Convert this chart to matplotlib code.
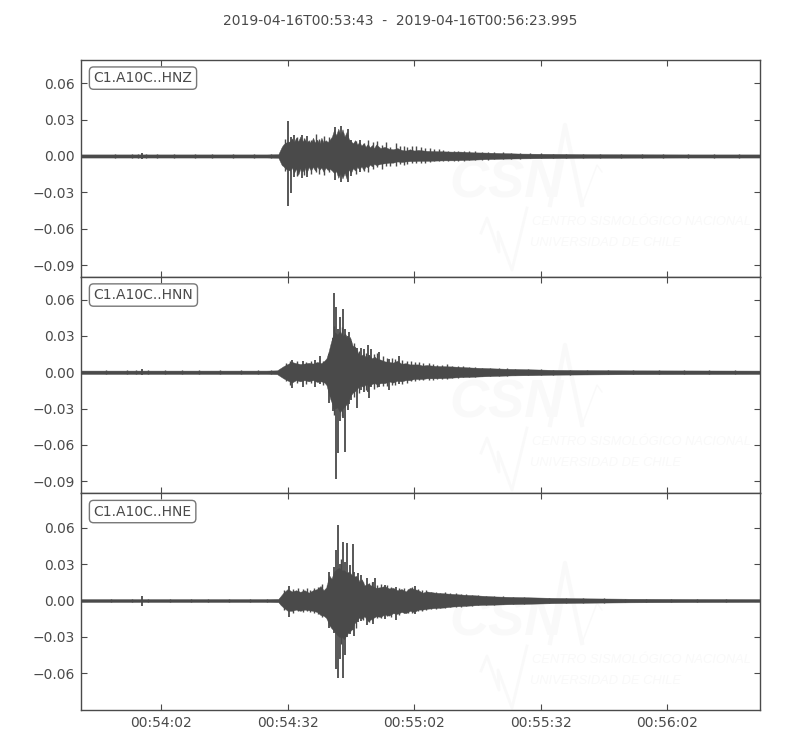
import matplotlib
matplotlib.use("Agg")
import matplotlib.pyplot as plt
import numpy as np

INK = "#4a4a4a"
WM = "#f9f9f9"
title_text = "2019-04-16T00:53:43  -  2019-04-16T00:56:23.995"
labels = ["C1.A10C..HNZ", "C1.A10C..HNN", "C1.A10C..HNE"]
xtick_pos = [19, 49, 79, 109, 139]
xtick_labels = ["00:54:02", "00:54:32", "00:55:02", "00:55:32", "00:56:02"]
yticks_z = [-0.09, -0.06, -0.03, 0.0, 0.03, 0.06]
yticks_n = [-0.09, -0.06, -0.03, 0.0, 0.03, 0.06]
yticks_e = [-0.06, -0.03, 0.0, 0.03, 0.06]
ylim_z = (-0.0996, 0.079)
ylim_n = (-0.0996, 0.0786)
ylim_e = (-0.0905, 0.0889)

# --- HNZ envelope (seconds after start, upper, lower)
t_z = [0, 8, 25, 35, 44, 46.8, 47.2, 47.6, 48, 48.5, 49.5, 50, 50.5, 51, 51.5, 52, 52.5, 53, 53.5, 54, 54.5, 55, 55.5, 56, 56.5, 57, 57.5, 58, 58.5, 59, 59.5,
       60, 60.5, 61, 61.5, 62, 62.5, 63, 63.5, 64, 64.5, 65, 65.5, 66, 66.5, 67, 67.5, 68, 68.5, 69, 69.5, 70, 71, 72, 73, 74, 75, 76, 77, 78, 79, 80, 82, 84, 86, 88, 90, 93, 96, 100, 104, 110, 120, 130, 145, 161]
up_z = [.0013, .0013, .0013, .0013, .0013, .0015, .0045, .0075, .0095, .011, .012, .0145, .0115, .015, .012, .016, .012, .014, .011, .013, .0105, .015, .011, .0135, .0100, .015, .011, .013, .0115, .0135, .016,
        .0215, .017, .0225, .0175, .022, .016, .020, .014, .012, .0105, .013, .0095, .0115, .0085, .0105, .0075, .010, .007, .009, .0065, .0095, .0065, .0075, .006, .0055, .0065, .005, .0045, .0055, .0045, .005, .0042, .004, .0038, .0036, .0036, .003, .0028, .0024, .002, .0018, .0015, .0014, .0013, .0013]
lo_z = [-.0013, -.0013, -.0013, -.0013, -.0013, -.0015, -.0045, -.0075, -.0085, -.0105, -.012, -.0095, -.014, -.0105, -.0155, -.0105, -.013, -.0095, -.014, -.009, -.012, -.009, -.012, -.0085, -.0115, -.0095, -.013, -.0095, -.0115, -.0105, -.012,
        -.014, -.0125, -.018, -.014, -.0185, -.014, -.019, -.011, -.014, -.010, -.012, -.009, -.011, -.0085, -.0115, -.0085, -.0095, -.007, -.0085, -.0065, -.0075, -.0065, -.006, -.0055, -.0055, -.0045, -.005, -.0045, -.0042, -.0042, -.004, -.004, -.0038, -.0036, -.0036, -.0034, -.003, -.0026, -.0022, -.002, -.0018, -.0015, -.0014, -.0013, -.0013]
spike_t_z = [14.5, 49.0, 49.7, 50.6, 52.3, 53.5, 60.3, 61.6, 63.4, 64.0, 66.2]
spike_hi_z = [.0024, .0288, .016, .017, .0175, .0165, .0235, .0247, .0222, .013, .0135]
spike_lo_z = [-.0024, -.0412, -.0305, -.017, -.0185, -.0175, -.0195, -.0215, -.0215, -.0165, -.0135]
teeth_t_z = [8, 12, 13.5, 15.5, 18, 22, 27, 31, 36, 41, 45, 48.3, 51.2, 52.8, 54.6, 55.8, 56.4, 57.6, 58.7, 65.3, 67.2, 68.1, 69.2, 70.3, 71.4, 72.4, 73.3, 74.6, 75.6, 76.5, 77.4, 78.6, 79.5, 80.7, 81.6, 82.7, 83.6, 84.8, 85.9, 87, 88.4, 89.5, 90.7, 92, 93.4, 95, 96.6, 98, 100, 102, 104, 106.5, 109, 112, 115, 119, 123, 128, 133, 138, 144, 150, 156]
teeth_hi_z = [.0015, .0016, .0016, .0016, .0015, .0016, .0015, .0015, .0015, .0016, .0015, .014, .016, .0145, .0135, .018, .014, .0165, .016, .012, .0105, .013, .0115, .0125, .009, .0115, .0075, .0105, .0085, .0085, .007, .0085, .008, .0075, .0065, .0065, .0055, .0055, .005, .0045, .0045, .0042, .0042, .0038, .0038, .0034, .0034, .003, .003, .0025, .0026, .0022, .0022, .0019, .002, .0017, .0018, .0016, .0016, .0016, .0015, .0015, .0015]
teeth_lo_z = [-.0015, -.0015, -.0016, -.0015, -.0015, -.0015, -.0015, -.0015, -.0015, -.0015, -.0016, -.012, -.0165, -.0155, -.015, -.013, -.0145, -.0155, -.0135, -.0145, -.0125, -.0135, -.0105, -.009, -.0105, -.0085, -.0085, -.0085, -.007, -.0075, -.0065, -.006, -.0055, -.0055, -.0055, -.0048, -.0045, -.0045, -.0045, -.0042, -.004, -.004, -.0038, -.0036, -.0034, -.0032, -.003, -.0028, -.0026, -.0024, -.0024, -.002, -.002, -.0019, -.0018, -.0017, -.0016, -.0016, -.0015, -.0015, -.0015, -.0015, -.0015]

# --- HNN envelope
t_n = [0, 8, 25, 35, 44, 46.5, 47.2, 48, 49, 50, 51, 52, 53, 54, 55, 56, 57, 57.7, 58.2, 58.7, 59.2, 59.7, 60.2, 60.8, 61.4, 62, 62.6, 63.2, 63.8, 64.4, 65, 65.6, 66.2, 67, 67.6, 68.3, 69, 69.6, 70.2, 71, 72, 73, 74, 75, 76, 77, 78, 79, 80, 81, 82, 84, 86, 88, 90, 92, 95, 98, 102, 107, 112, 120, 130, 145, 161]
up_n = [.0014, .0014, .0014, .0014, .0014, .0016, .0032, .005, .0068, .0085, .0075, .0068, .0072, .0078, .0072, .0085, .0075, .0095, .0115, .017, .024, .030, .033, .031, .034, .030, .032, .028, .029, .022, .021, .0165, .0135, .015, .012, .014, .0115, .013, .011, .0105, .009, .0085, .008, .0095, .007, .0075, .0065, .0065, .0065, .0055, .006, .0052, .005, .0048, .0044, .004, .0036, .0032, .0028, .0024, .002, .0018, .0016, .0015, .0014]
lo_n = [-.0014, -.0014, -.0014, -.0014, -.0014, -.0016, -.0032, -.005, -.0068, -.0085, -.0065, -.0075, -.0065, -.0075, -.0065, -.008, -.0075, -.0085, -.0105, -.017, -.023, -.027, -.030, -.029, -.033, -.030, -.028, -.025, -.020, -.017, -.0155, -.013, -.011, -.012, -.0095, -.0115, -.0095, -.009, -.010, -.009, -.009, -.0075, -.0085, -.007, -.0075, -.0065, -.0065, -.0055, -.0055, -.0055, -.005, -.005, -.0048, -.0044, -.004, -.0038, -.0034, -.003, -.0026, -.0024, -.002, -.0018, -.0016, -.0015, -.0014]
spike_t_n = [14.5, 50.0, 52.6, 55.5, 56.6, 58.7, 59.7, 59.9, 60.5, 61.0, 61.4, 62.2, 62.5, 63.2, 63.5, 64.0, 65.4, 66.3, 67.0, 68.0, 68.4, 68.8, 70.7, 73.1, 75.3]
spike_hi_n = [.0024, .0105, .009, .0105, .0135, .015, .028, .0657, .054, .036, .046, .052, .036, .030, .0336, .026, .020, .020, .019, .0226, .014, .019, .017, .011, .0136]
spike_lo_n = [-.0024, -.013, -.0118, -.0122, -.010, -.025, -.032, -.030, -.0877, -.0665, -.040, -.038, -.066, -.031, -.026, -.023, -.0295, -.015, -.016, -.016, -.021, -.012, -.012, -.0144, -.010]
teeth_t_n = [6, 11, 13, 16, 20, 24, 28, 33, 38, 42, 45, 48.6, 49.6, 51.3, 53.4, 54.6, 57.4, 60, 62, 64.8, 65.9, 67.5, 69.4, 70.1, 71.6, 72.6, 73.7, 74.4, 76.1, 77.2, 78.2, 79.2, 80.2, 81.2, 82.4, 83.4, 84.5, 85.6, 86.7, 88, 89.3, 90.6, 92, 93.5, 95, 97, 99, 101, 103, 106, 109, 112, 116, 120, 125, 131, 137, 143, 149, 155]
teeth_hi_n = [.0017, .0017, .0016, .0017, .0017, .0016, .0017, .0017, .0016, .0017, .0017, .0075, .0095, .0095, .0085, .0095, .0095, .038, .037, .024, .0175, .016, .015, .0155, .0135, .012, .0115, .011, .0105, .0095, .0095, .0085, .0085, .0075, .0075, .0065, .0062, .006, .0065, .0055, .005, .005, .0045, .0042, .0038, .0036, .0034, .0032, .003, .0026, .0024, .0022, .002, .002, .0018, .0018, .0017, .0016, .0016, .0016]
teeth_lo_n = [-.0017, -.0017, -.0016, -.0017, -.0016, -.0017, -.0017, -.0016, -.0017, -.0017, -.0016, -.0075, -.0105, -.009, -.0095, -.0085, -.0105, -.035, -.036, -.020, -.017, -.0145, -.0135, -.0125, -.0115, -.0115, -.0105, -.0105, -.0095, -.0085, -.0075, -.0075, -.0065, -.0065, -.006, -.006, -.0058, -.0055, -.0052, -.005, -.0046, -.0042, -.004, -.0036, -.0034, -.0032, -.003, -.0028, -.0026, -.0024, -.0022, -.002, -.0019, -.0017, -.0018, -.0016, -.0016, -.0016, -.0016, -.0016]

# --- HNE envelope
t_e = [0, 8, 25, 35, 44, 46.8, 47.3, 48, 49, 50, 51, 52, 53, 54, 55, 56, 56.8, 57.5, 58.2, 58.8, 59.4, 60, 60.6, 61.2, 61.8, 62.4, 63, 63.6, 64.2, 64.8, 65.4, 66, 66.6, 67.2, 68, 69, 70, 71, 72, 73, 74, 75, 76, 77, 78, 79, 80, 81, 82, 84, 86, 88, 90, 92, 95, 98, 102, 107, 112, 120, 130, 145, 161]
up_e = [.0012, .0012, .0012, .0012, .0012, .0014, .0035, .0065, .0095, .0075, .0085, .0072, .0085, .0065, .0085, .0095, .012, .0085, .011, .021, .018, .024, .026, .027, .025, .025, .023, .024, .021, .020, .020, .016, .0175, .0125, .014, .012, .0105, .011, .012, .01, .0105, .0085, .0095, .0075, .0105, .0095, .0085, .0065, .0075, .0065, .006, .0055, .005, .0046, .004, .0034, .003, .0026, .0022, .0018, .0015, .0013, .0012]
lo_e = [-.0012, -.0012, -.0012, -.0012, -.0012, -.0014, -.0035, -.0058, -.0085, -.0085, -.0075, -.0085, -.0075, -.008, -.0085, -.0095, -.012, -.0125, -.0145, -.020, -.023, -.025, -.028, -.030, -.030, -.032, -.028, -.026, -.024, -.019, -.0165, -.014, -.015, -.013, -.017, -.015, -.013, -.0135, -.0115, -.0125, -.0105, -.011, -.0095, -.0105, -.0085, -.0095, -.0075, -.0075, -.0068, -.0062, -.0058, -.005, -.0046, -.0042, -.0036, -.0034, -.003, -.0026, -.0022, -.0018, -.0015, -.0013, -.0012]
spike_t_e = [14.4, 49.2, 58.9, 59.9, 60.4, 60.9, 61.4, 62.1, 62.6, 63.0, 63.8, 64.4, 64.8, 65.6, 66.3, 67.8, 69.3, 69.6, 72.1, 74.7, 79.2]
spike_hi_e = [.0036, .0118, .0235, .028, .042, .0626, .030, .048, .032, .0475, .029, .0466, .024, .023, .021, .0187, .015, .0187, .013, .011, .012]
spike_lo_e = [-.0048, -.0134, -.0225, -.027, -.0568, -.0642, -.0486, -.0637, -.045, -.030, -.028, -.024, -.029, -.018, -.017, -.020, -.019, -.014, -.015, -.0157, -.011]
teeth_t_e = [7, 12, 16, 21, 26, 30, 35, 40, 44, 48.1, 50.3, 51.4, 52.6, 53.5, 54.4, 55.3, 56.2, 57.2, 58.4, 61.6, 65.1, 66.9, 68.4, 69, 70.3, 71.2, 72.6, 73.5, 75.4, 76.5, 77.6, 78.4, 79.8, 80.8, 81.9, 83, 84.1, 85.2, 86.3, 87.5, 88.8, 90, 91.3, 92.7, 94.2, 96, 98, 100, 102.5, 105, 108, 111, 115, 119, 124, 129, 134, 140, 146, 153]
teeth_hi_e = [.0014, .0014, .0014, .0014, .0013, .0014, .0014, .0013, .0014, .0085, .0095, .0105, .0095, .0105, .0085, .0105, .0115, .0135, .0125, .034, .0205, .0155, .0145, .015, .0125, .0135, .0125, .0115, .0105, .0105, .0095, .0115, .0095, .0085, .0085, .0072, .0072, .0065, .0068, .006, .006, .0052, .005, .0048, .0044, .004, .0036, .0034, .003, .0028, .0025, .0024, .0022, .002, .0018, .0016, .0016, .0015, .0014, .0014]
teeth_lo_e = [-.0013, -.0014, -.0014, -.0013, -.0014, -.0014, -.0013, -.0014, -.0014, -.0075, -.0105, -.0085, -.0095, -.0085, -.0095, -.0105, -.0115, -.0135, -.0155, -.036, -.0225, -.0165, -.018, -.0165, -.0145, -.0145, -.0125, -.0135, -.012, -.0105, -.0105, -.0105, -.0085, -.0085, -.0078, -.0072, -.007, -.0065, -.006, -.0055, -.0052, -.005, -.0046, -.0042, -.004, -.0036, -.0034, -.003, -.0028, -.0026, -.0024, -.0022, -.002, -.0019, -.0017, -.0016, -.0015, -.0014, -.0014, -.0013]

panels = [
    (labels[0], ylim_z, yticks_z, t_z, up_z, lo_z, spike_t_z, spike_hi_z, spike_lo_z, teeth_t_z, teeth_hi_z, teeth_lo_z, 0),
    (labels[1], ylim_n, yticks_n, t_n, up_n, lo_n, spike_t_n, spike_hi_n, spike_lo_n, teeth_t_n, teeth_hi_n, teeth_lo_n, 220),
    (labels[2], ylim_e, yticks_e, t_e, up_e, lo_e, spike_t_e, spike_hi_e, spike_lo_e, teeth_t_e, teeth_hi_e, teeth_lo_e, 438),
]

W, H = 800, 750
fig = plt.figure(figsize=(W / 100, H / 100), dpi=100, facecolor="white")
edges = [60, 277, 493, 710]
fig.text(400 / W, 1 - 21 / H, title_text, ha="center", va="center", fontsize=10, color=INK)
WM_FONT = "Liberation Sans"


def fx(px):
    return px / W


def fy(py):
    return 1 - py / H


for i, (label, ylim, yt, t, up, lo, st, sh, sl, tt, th, tl, dy) in enumerate(panels):
    top, bottom = edges[i], edges[i + 1]
    ax = fig.add_axes([81 / W, 1 - bottom / H, 679 / W, (bottom - top) / H])
    ax.set_xlim(0, 160.995)
    ax.set_ylim(*ylim)

    # faint logo behind the trace
    tr = fig.transFigure
    ax.text(fx(507), fy(183 + dy), "CSN", transform=tr, fontsize=39, fontweight="bold", fontstyle="italic",
            family=WM_FONT, color=WM, ha="center", va="center", zorder=0)
    ax.text(fx(532), fy(222 + dy), "CENTRO SISMOLÓGICO NACIONAL", transform=tr, fontsize=9.3, fontstyle="italic",
            family=WM_FONT, color=WM, ha="left", va="center", zorder=0)
    ax.text(fx(530), fy(243 + dy), "UNIVERSIDAD DE CHILE", transform=tr, fontsize=9.3, fontstyle="italic",
            family=WM_FONT, color=WM, ha="left", va="center", zorder=0)
    for xs, ys, lw in [([550, 565, 582], [205, 125, 205], 3), ([582, 597, 602], [205, 165, 172], 1),
                       ([481, 487, 499, 498, 512, 527], [233, 218, 252, 232, 270, 208], 2)]:
        ax.plot([fx(v) for v in xs], [fy(v + dy) for v in ys], color=WM, lw=lw, transform=tr, zorder=0.5)

    ax.fill_between(t, lo, up, color=INK, lw=0.3, zorder=2)
    ax.vlines(tt, tl, th, color=INK, lw=1.0, zorder=2)
    ax.vlines(st, sl, sh, color=INK, lw=1.3, zorder=2)

    ax.set_xticks(xtick_pos)
    ax.set_yticks(yt)
    ax.set_yticklabels([f"{v:.2f}".replace("-", "\u2212") for v in yt])
    if i == 2:
        ax.set_xticklabels(xtick_labels)
    else:
        ax.tick_params(labelbottom=False)
    ax.tick_params(direction="in", top=True, right=True, length=4, width=0.8, color=INK,
                   labelcolor=INK, labelsize=10, pad=4.5)
    for s in ax.spines.values():
        s.set_color(INK)
        s.set_linewidth(1.0)

    ax.text(0.0185, 0.9165 if i != 2 else 0.9145, label, transform=ax.transAxes, fontsize=10, color=INK,
            ha="left", va="center", zorder=5,
            bbox=dict(boxstyle="round,pad=0.3", fc="white", ec="#777777", lw=1.0))

fig.savefig("out.png", dpi=100, facecolor="white")
